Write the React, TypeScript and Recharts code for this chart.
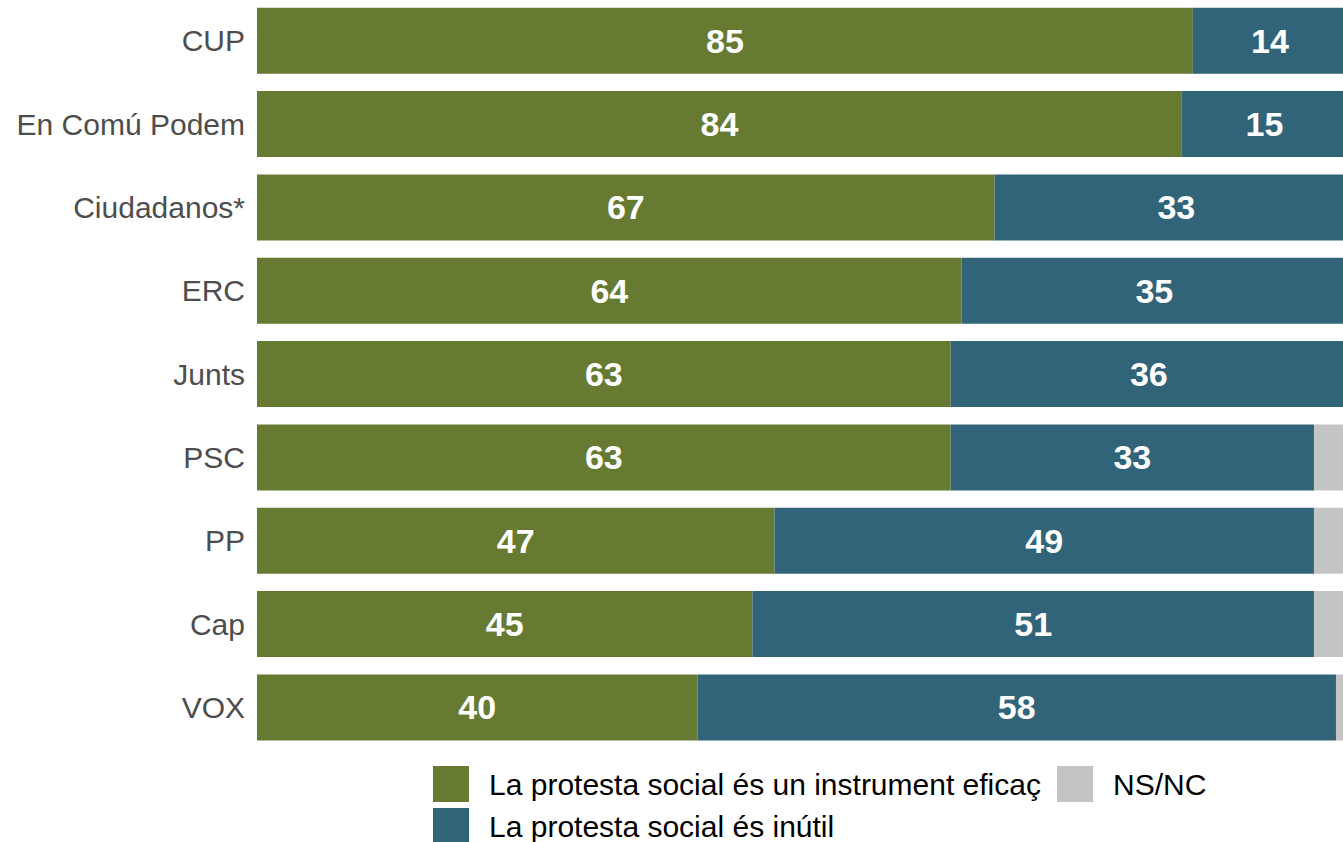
import React from 'react';
import { BarChart, Bar, XAxis, YAxis, LabelList } from 'recharts';

const parties = ['CUP', 'En Comú Podem', 'Ciudadanos*', 'ERC', 'Junts', 'PSC', 'PP', 'Cap', 'VOX'];
const eficac = [85, 84, 67, 64, 63, 63, 47, 45, 40];
const inutil = [14, 15, 33, 35, 36, 33, 49, 51, 58];
const nsnc = [1, 1, 0, 1, 1, 4, 4, 4, 2];

const GREEN = '#667a32';
const BLUE = '#316479';
const GRAY = '#c4c4c4';

const data = parties.map((p, i) => ({ party: p, eficac: eficac[i], inutil: inutil[i], nsnc: nsnc[i] }));

const FONT = '"Liberation Sans", Arial, sans-serif';

const renderLabel = (props: any) => {
  const { x, y, width, height, value } = props;
  const cx = Number(x) + Number(width) / 2;
  const cy = Number(y) + Number(height) / 2;
  return (
    <text
      x={cx}
      y={cy}
      textAnchor="middle"
      dominantBaseline="central"
      fill="#fff"
      fontSize={34}
      fontWeight={700}
      fontFamily={FONT}
    >
      {value}
    </text>
  );
};

const LegendItem: React.FC<{ color: string; text: string; x: number; y: number; textX: number }> = ({ color, text, x, y, textX }) => (
  <>
    <div style={{ position: 'absolute', left: x, top: y, width: 36, height: 36, background: color }} />
    <div style={{ position: 'absolute', left: textX, top: y + 1, height: 36, lineHeight: '36px', fontSize: 30, fontFamily: FONT, color: '#000', whiteSpace: 'nowrap' }}>
      {text}
    </div>
  </>
);

const App: React.FC = () => {
  return (
    <div style={{ position: 'absolute', left: 0, top: 0, width: 1343, height: 842, overflow: 'hidden', background: '#fff' }}>
      <BarChart
        width={1370}
        height={842}
        layout="vertical"
        data={data}
        margin={{ top: -1, right: 12, left: 0, bottom: 93 }}
        barCategoryGap="10.5%"
      >
        <XAxis type="number" domain={[0, 100]} hide />
        <YAxis
          type="category"
          dataKey="party"
          width={257}
          axisLine={false}
          tickLine={false}
          tickMargin={6}
          tick={{ fill: '#4d4d4d', fontSize: 30, fontFamily: FONT }}
        />
        <Bar dataKey="eficac" stackId="a" fill={GREEN} isAnimationActive={false}>
          <LabelList dataKey="eficac" content={renderLabel} />
        </Bar>
        <Bar dataKey="inutil" stackId="a" fill={BLUE} isAnimationActive={false}>
          <LabelList dataKey="inutil" content={renderLabel} />
        </Bar>
        <Bar dataKey="nsnc" stackId="a" fill={GRAY} isAnimationActive={false} />
      </BarChart>
      <LegendItem color={GREEN} text="La protesta social és un instrument eficaç" x={433} y={766} textX={489} />
      <LegendItem color={GRAY} text="NS/NC" x={1057} y={766} textX={1113} />
      <LegendItem color={BLUE} text="La protesta social és inútil" x={433} y={808} textX={489} />
    </div>
  );
};

export default App;
